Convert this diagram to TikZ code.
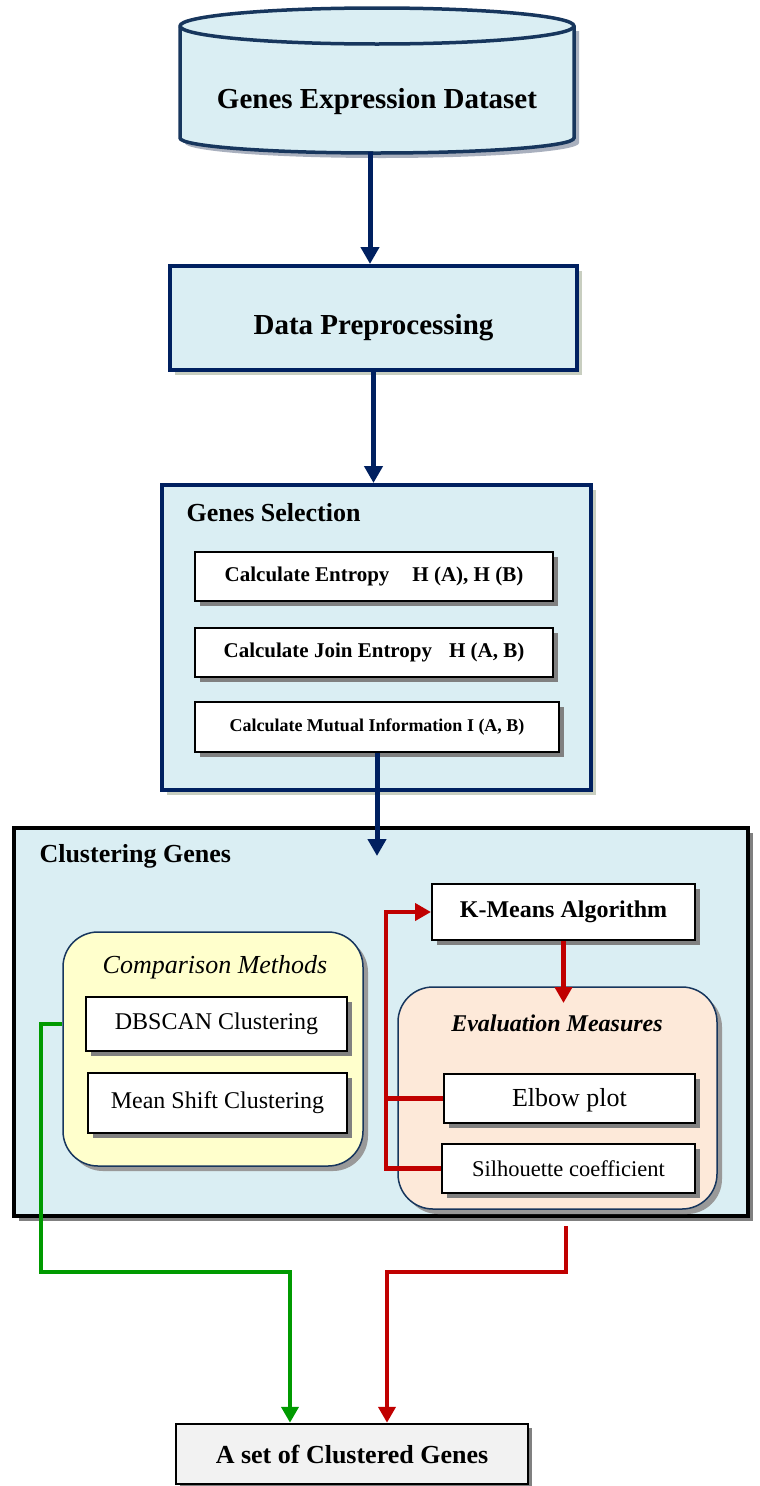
\documentclass[tikz,border=0pt]{standalone}
\usepackage{fontspec}
\setmainfont{Liberation Serif}
\usetikzlibrary{arrows.meta,shadows}
\definecolor{lblue}{HTML}{DAEEF3}
\definecolor{bnavy}{HTML}{17365D}
\definecolor{anavy}{HTML}{002060}
\definecolor{cylsh}{HTML}{A9B0BE}
\definecolor{lsh}{HTML}{C8CEC0}
\definecolor{sgray}{HTML}{808080}
\definecolor{lyellow}{HTML}{FFFFCC}
\definecolor{peach}{HTML}{FDE9D9}
\definecolor{outfill}{HTML}{F2F2F2}
\definecolor{dred}{HTML}{C00000}
\definecolor{dgreen}{HTML}{009A00}
\begin{document}
\begin{tikzpicture}[x=1pt,y=-1pt,
  navybox/.style={draw=anavy, line width=4pt, fill=lblue, inner sep=0pt,
    drop shadow={shadow xshift=5pt,shadow yshift=-5pt,fill=lsh,opacity=1}},
  whitebox/.style={draw=black, line width=2pt, fill=white, inner sep=0pt,
    drop shadow={shadow xshift=5pt,shadow yshift=-5pt,fill=sgray,opacity=1}},
  roundbox/.style={draw=bnavy, line width=1.5pt, rounded corners=35pt, inner sep=0pt,
    drop shadow={shadow xshift=5pt,shadow yshift=-5pt,fill=sgray!80,opacity=1}},
  bigfont/.style={font=\bfseries\fontsize{29}{29}\selectfont},
  navyarrow/.style={draw=anavy, line width=5pt, -{Triangle[width=18pt,length=17pt]}},
  redline/.style={draw=dred, line width=4.5pt},
  redarrow/.style={draw=dred, line width=4.5pt, -{Triangle[width=17pt,length=16pt]}},
  greenarrow/.style={draw=dgreen, line width=4.5pt, -{Triangle[width=17pt,length=16pt]}},
]
\useasboundingbox (0,0) rectangle (760,1486);

% ---- cylinder ----
\begin{scope}[shift={(5,5)}]
\fill[cylsh] (180,26) -- (180,138) arc[start angle=180,end angle=360,x radius=197pt,y radius=15pt] -- (574,26) -- cycle;
\end{scope}
\filldraw[fill=lblue, draw=bnavy, line width=3.5pt] (180,26) -- (180,138)
  arc[start angle=180,end angle=360,x radius=197pt,y radius=15pt] -- (574,26)
  arc[start angle=0,end angle=180,x radius=197pt,y radius=18pt] -- cycle;
\draw[bnavy, line width=3.5pt] (180,26) arc[start angle=180,end angle=360,x radius=197pt,y radius=18pt];
\node[bigfont] (db) at (377,99) {\raisebox{-3pt}[\height][\depth]{Genes Expression Dataset}};
\coordinate (dbb) at (370,152);

% ---- data preprocessing ----
\node[navybox, minimum width=407pt, minimum height=104pt, bigfont] (prep) at (373.5,318) {\raisebox{-10pt}[\height][\depth]{Data Preprocessing}};

% ---- genes selection ----
\node[navybox, minimum width=429pt, minimum height=305pt] (gsel) at (376.5,637.5) {};
\node[anchor=west, font=\bfseries\fontsize{26}{26}\selectfont] (gseltitle) at (183,513) {Genes Selection};
\node[whitebox, minimum width=358pt, minimum height=49pt, font=\bfseries\fontsize{21}{21}\selectfont] (ent) at (374,576.5) {Calculate Entropy\hspace{23pt}H (A), H (B)};
\node[whitebox, minimum width=358pt, minimum height=49pt, font=\bfseries\fontsize{21}{21}\selectfont] (join) at (374,652.5) {Calculate Join Entropy\hspace{17pt}H (A, B)};
\node[whitebox, minimum width=364pt, minimum height=50pt, font=\bfseries\fontsize{18}{18}\selectfont] (mut) at (377,727) {Calculate Mutual Information I (A, B)};

% ---- clustering genes ----
\node[draw=black, line width=3.5pt, fill=lblue, inner sep=0pt, minimum width=734pt, minimum height=388pt,
  drop shadow={shadow xshift=5pt,shadow yshift=-5pt,fill=sgray,opacity=1}] (clus) at (381,1022) {};
\node[anchor=west, font=\bfseries\fontsize{26}{26}\selectfont] (clustitle) at (36,856) {Clustering Genes};

\node[roundbox, fill=lyellow, minimum width=300pt, minimum height=234pt] (cmp) at (213,1049) {};
\node[font=\itshape\fontsize{26}{26}\selectfont] (cmptitle) at (215,967) {Comparison Methods};
\node[whitebox, minimum width=261pt, minimum height=54pt, font=\fontsize{24}{24}\selectfont] (dbscan) at (216.5,1024) {DBSCAN Clustering\hspace{16pt}};
\node[whitebox, minimum width=259pt, minimum height=60pt, font=\fontsize{24}{24}\selectfont] (mshift) at (217.5,1103) {Mean Shift Clustering};

\node[whitebox, minimum width=263pt, minimum height=56pt, font=\bfseries\fontsize{24}{24}\selectfont] (kmeans) at (563.5,912) {K-Means Algorithm};
\node[roundbox, fill=peach, minimum width=319pt, minimum height=222pt] (eval) at (557.5,1098) {};
\node[font=\bfseries\itshape\fontsize{24}{24}\selectfont] (evaltitle) at (557,1023) {Evaluation Measures};
\node[whitebox, minimum width=251pt, minimum height=49pt, font=\fontsize{26}{26}\selectfont] (elbow) at (569.5,1098.5) {\raisebox{-2pt}[\height][\depth]{Elbow plot}};
\node[whitebox, minimum width=253pt, minimum height=49pt, font=\fontsize{22.5}{22.5}\selectfont] (sil) at (568.5,1168.5) {Silhouette coefficient};

% ---- output ----
\node[draw=black, line width=2.5pt, fill=outfill, inner sep=0pt, minimum width=352pt, minimum height=60pt,
  drop shadow={shadow xshift=4pt,shadow yshift=-4pt,fill=sgray,opacity=1},
  font=\bfseries\fontsize{26}{26}\selectfont] (out) at (352,1454) {A set of Clustered Genes};

% ---- connectors ----
\draw[navyarrow] (dbb) -- (dbb |- prep.north);
\draw[navyarrow] (prep.south) -- (prep.south |- gsel.north);
\draw[navyarrow] (mut.south) -- ++(0,103);
\draw[redarrow] (kmeans.south) -- ++(0,62);
\coordinate (fb) at (386,1170);
\draw[redline] (elbow.west) -- (elbow.west -| fb);
\draw[redarrow] (sil.west) -- (sil.west -| fb) |- (kmeans.west);
\coordinate (gturn) at (41,1272);
\draw[greenarrow] (cmp.west |- dbscan.center) -| (gturn) -| ([xshift=-62pt]out.north);
\coordinate (rstart) at (566,1226);
\draw[redarrow] (rstart) |- ([xshift=35pt]out.north |- gturn) -- ([xshift=35pt]out.north);
\end{tikzpicture}
\end{document}
